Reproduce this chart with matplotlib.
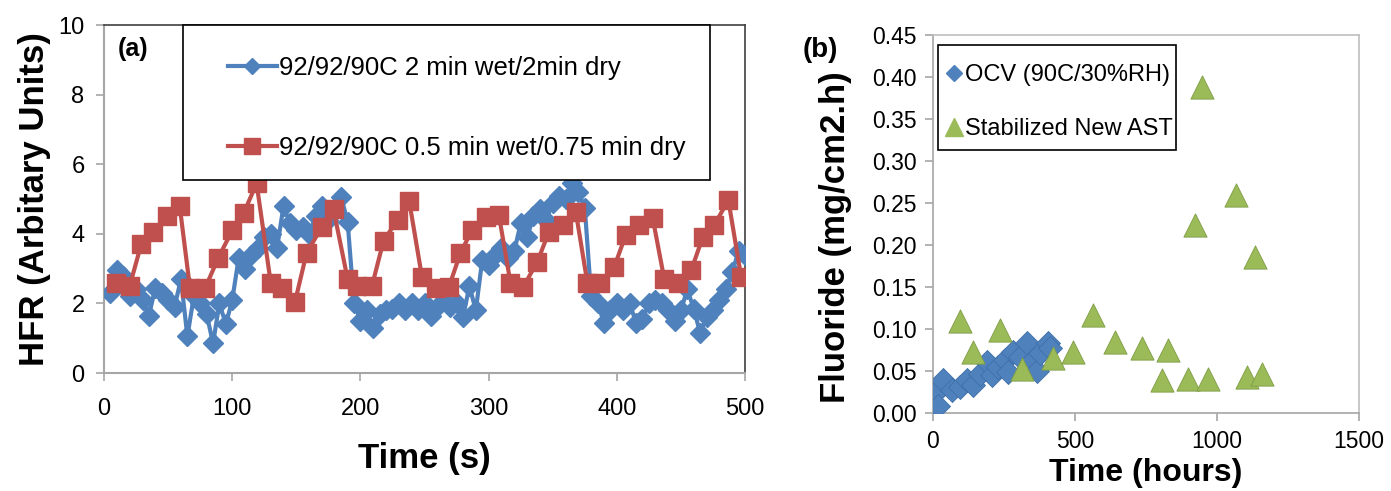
import matplotlib
matplotlib.use("Agg")
import matplotlib.pyplot as plt
from matplotlib.patches import Rectangle
from matplotlib.lines import Line2D

# (a) HFR during wet/dry cycling
time_blue = [5, 10, 15, 20, 25, 30, 35, 40, 45, 50, 55, 60, 65, 70, 75, 80, 85, 90, 95, 100,
             105, 110, 115, 120, 125, 130, 135, 140, 145, 150, 155, 160, 165, 170, 175, 180, 185, 190, 195, 200,
             205, 210, 215, 220, 225, 230, 235, 240, 245, 250, 255, 260, 265, 270, 275, 280, 285, 290, 295, 300,
             305, 310, 315, 320, 325, 330, 335, 340, 345, 350, 355, 360, 365, 370, 375, 380, 385, 390, 395, 400,
             405, 410, 415, 420, 425, 430, 435, 440, 445, 450, 455, 460, 465, 470, 475, 480, 485, 490, 495, 500]
hfr_blue = [2.3, 2.95, 2.8, 2.2, 2.4, 2.1, 1.65, 2.45, 2.3, 2.1, 1.9, 2.7, 1.05, 2.2, 2.0, 1.7, 0.85, 2.0, 1.4, 2.1,
            3.3, 3.0, 3.4, 3.6, 3.9, 4.0, 3.6, 4.8, 4.3, 4.1, 4.2, 4.0, 4.5, 4.8, 4.4, 4.7, 5.05, 4.35, 2.0, 1.5,
            1.8, 1.3, 1.7, 1.8, 1.85, 2.0, 1.8, 2.0, 1.8, 2.0, 1.65, 1.9, 2.1, 1.9, 2.0, 1.6, 2.5, 1.8, 3.25, 3.1,
            3.4, 3.6, 3.3, 3.5, 4.3, 3.9, 4.5, 4.7, 4.4, 4.9, 5.1, 5.0, 5.45, 5.2, 4.75, 2.2, 2.0, 1.45, 1.8, 2.0,
            1.8, 2.0, 1.45, 1.55, 2.0, 2.1, 2.0, 1.8, 1.5, 1.8, 2.4, 1.85, 1.15, 1.6, 1.8, 2.1, 2.4, 2.9, 3.5, 3.4]

time_red = [9, 20, 29, 38, 49, 59, 67, 79, 89, 100, 109, 119, 130, 139, 149, 158, 170, 179, 190, 197,
            209, 218, 229, 238, 248, 259, 269, 278, 287, 298, 308, 317, 327, 338, 347, 358, 368, 377, 387, 398,
            407, 417, 428, 437, 448, 458, 467, 476, 487, 497]
hfr_red = [2.6, 2.5, 3.7, 4.05, 4.5, 4.8, 2.45, 2.45, 3.3, 4.1, 4.6, 5.45, 2.6, 2.45, 2.05, 3.45, 4.2, 4.7, 2.7, 2.5,
           2.5, 3.8, 4.4, 4.95, 2.76, 2.44, 2.47, 3.45, 4.1, 4.48, 4.54, 2.6, 2.47, 3.2, 4.05, 4.25, 4.63, 2.6, 2.6, 3.05,
           3.97, 4.25, 4.45, 2.7, 2.6, 2.95, 3.9, 4.25, 4.97, 2.76]

label_blue = "92/92/90C 2 min wet/2min dry"
label_red = "92/92/90C 0.5 min wet/0.75 min dry"

# (b) fluoride release
ocv_hours = [0, 19, 36, 66, 95, 119, 142, 165, 189, 207, 230, 254, 265, 283, 306, 330, 353, 365, 377, 406, 413]
ocv_fluoride = [0.021, 0.008, 0.039, 0.027, 0.031, 0.039, 0.033, 0.047, 0.061, 0.045, 0.055, 0.063, 0.049,
                0.073, 0.067, 0.083, 0.063, 0.05, 0.072, 0.083, 0.077]
ast_hours = [95, 142, 236, 312, 423, 493, 564, 641, 735, 805, 827, 899, 922, 946, 970, 1067, 1104, 1134, 1157]
ast_fluoride = [0.109, 0.073, 0.099, 0.052, 0.066, 0.073, 0.117, 0.085, 0.077, 0.039, 0.075, 0.040, 0.224,
                0.388, 0.040, 0.259, 0.043, 0.186, 0.046]

blue = "#4F81BD"
red = "#C0504D"
green = "#9BBB59"
font = ["Liberation Sans", "DejaVu Sans"]

fig = plt.figure(figsize=(13.91, 4.91), dpi=100)

# ---------- panel (a) ----------
ax1 = fig.add_axes([0.0748, 0.2403, 0.4608, 0.7087])
ax1.plot(time_blue, hfr_blue, color=blue, lw=3, marker="D", ms=10, mec=blue, zorder=3)
ax1.plot(time_red, hfr_red, color=red, lw=3, marker="s", ms=13, mec=red, zorder=4)
ax1.set_xlim(0, 500)
ax1.set_ylim(0, 10)
ax1.set_xticks([0, 100, 200, 300, 400, 500])
ax1.set_yticks([0, 2, 4, 6, 8, 10])
for s in ["left", "bottom"]:
    ax1.spines[s].set_color("#a6a6a6")
    ax1.spines[s].set_linewidth(1.5)
for s in ["top", "right"]:
    ax1.spines[s].set_color("#404040")
    ax1.spines[s].set_linewidth(1.2)
ax1.tick_params(axis="both", direction="out", length=6, width=1.2, color="#a6a6a6", pad=8)
ax1.tick_params(axis="x", pad=12)
for lab in ax1.get_xticklabels() + ax1.get_yticklabels():
    lab.set_family(font)
    lab.set_fontsize(17)
ax1.set_xlabel("Time (s)", family=font, fontsize=25, fontweight="bold", labelpad=16)
ax1.set_ylabel("HFR (Arbitary Units)", family=font, fontsize=25, fontweight="bold", labelpad=5)
ax1.text(0.045, 0.93, "(a)", transform=ax1.transAxes, family=font, fontsize=18,
         fontweight="bold", ha="center", va="center")

ax1.add_patch(Rectangle((0.1232, 0.5546), 0.8222, 0.4454, transform=ax1.transAxes,
                        fill=True, facecolor="white", edgecolor="black", lw=1.2, zorder=5, clip_on=False))
h1 = [Line2D([], [], color=blue, lw=3, marker="D", ms=8, mec=blue),
      Line2D([], [], color=red, lw=3, marker="s", ms=11, mec=red)]
leg1 = ax1.legend(h1, [label_blue, label_red], loc="upper left", bbox_to_anchor=(0.1934, 0.91),
                  frameon=False, borderpad=0, borderaxespad=0, handlelength=1.9, handletextpad=0.1,
                  labelspacing=2.15, numpoints=1, prop={"family": font, "size": 18.5})
leg1.set_zorder(6)

# ---------- panel (b) ----------
ax2 = fig.add_axes([0.6707, 0.1589, 0.3063, 0.7698])
ax2.scatter(ocv_hours, ocv_fluoride, marker="D", s=150, color=blue, edgecolors="#3d6fa8",
            linewidths=0.6, zorder=3)
ax2.scatter(ast_hours, ast_fluoride, marker="^", s=280, color=green, edgecolors="#7e9c45",
            linewidths=0.6, zorder=4)
ax2.set_xlim(0, 1500)
ax2.set_ylim(0, 0.45)
ax2.set_xticks([0, 500, 1000, 1500])
ax2.set_yticks([0.0, 0.05, 0.10, 0.15, 0.20, 0.25, 0.30, 0.35, 0.40, 0.45])
ax2.set_yticklabels(["%.2f" % v for v in ax2.get_yticks()])
for s in ax2.spines.values():
    s.set_color("#bfbfbf")
    s.set_linewidth(1.2)
ax2.spines["left"].set_color("#a6a6a6")
ax2.spines["bottom"].set_color("#a6a6a6")
ax2.tick_params(axis="both", direction="out", length=6, width=1.2, color="#a6a6a6", pad=6)
for lab in ax2.get_xticklabels() + ax2.get_yticklabels():
    lab.set_family(font)
    lab.set_fontsize(16.5)
ax2.set_xlabel("Time (hours)", family=font, fontsize=23, fontweight="bold", labelpad=4)
ax2.set_ylabel("Fluoride (mg/cm2.h)", family=font, fontsize=25, fontweight="bold")
ax2.yaxis.set_label_coords(-0.19, 0.466)
fig.text(820 / 1391, 1 - 50 / 491, "(b)", family=font, fontsize=20, fontweight="bold",
         ha="center", va="center")

ax2.add_patch(Rectangle((0.0117, 0.6958), 0.5583, 0.2777, transform=ax2.transAxes,
                        fill=True, facecolor="white", edgecolor="black", lw=1.2, zorder=5))
h2 = [Line2D([], [], ls="none", color=blue, marker="D", ms=8, mec=blue),
      Line2D([], [], ls="none", color=green, marker="^", ms=13, mec=green)]
leg2 = ax2.legend(h2, ["OCV (90C/30%RH)", "Stabilized New AST"], loc="upper left",
                  bbox_to_anchor=(0.0235, 0.922), frameon=False, borderpad=0, borderaxespad=0,
                  handlelength=0.9, handletextpad=0.05, labelspacing=1.35, numpoints=1,
                  prop={"family": font, "size": 17})
leg2.set_zorder(6)

fig.savefig("out.png", dpi=100)
